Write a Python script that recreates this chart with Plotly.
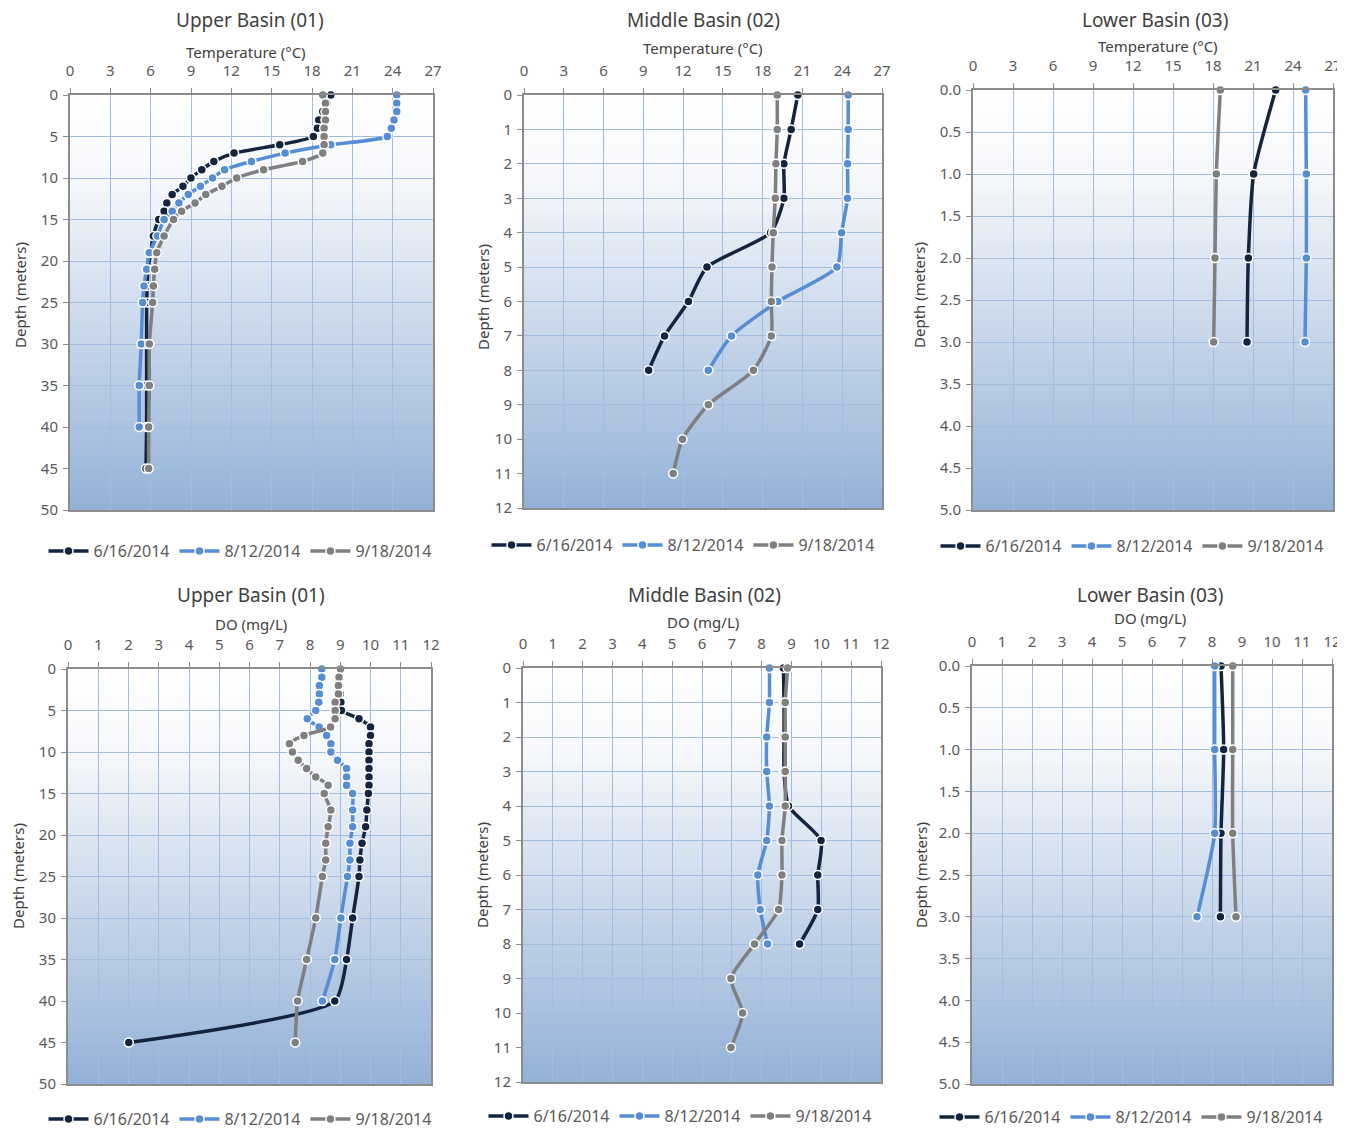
import plotly.graph_objects as go

# page places the figure 8px from top-left; size it to fill the rest of the window
OFF = 8
W, H = 1345 - OFF, 1131 - OFF
FONT = "Noto Sans"
dates = ["6/16/2014", "8/12/2014", "9/18/2014"]
colors = ["#14243f", "#558ed5", "#7f7f7f"]

# ---------------- data ----------------
up_depth = [0, 1, 2, 3, 4, 5, 6, 7, 8, 9, 10, 11, 12, 13, 14, 15, 17, 19, 21, 23, 25, 30, 35, 40, 45]
up_temp_0616 = [19.4, 19.1, 18.8, 18.5, 18.4, 18.1, 15.6, 12.2, 10.7, 9.8, 9.0, 8.4, 7.6, 7.2, 7.0, 6.6,
                6.2, 6.0, 5.8, 5.75, 5.7, 5.7, 5.7, 5.7, 5.65]
up_temp_0812 = [24.3, 24.3, 24.3, 24.1, 23.9, 23.6, 19.4, 16.0, 13.5, 11.5, 10.6, 9.7, 8.8, 8.1, 7.6, 7.0,
                6.5, 5.9, 5.7, 5.5, 5.4, 5.3, 5.15, 5.15]
up_temp_0918 = [18.8, 19.0, 19.0, 19.0, 18.9, 18.9, 18.9, 18.8, 17.3, 14.4, 12.4, 11.3, 10.1, 9.3, 8.3, 7.7,
                7.0, 6.45, 6.3, 6.2, 6.15, 5.9, 5.9, 5.85, 5.85]

mid_depth = [0, 1, 2, 3, 4, 5, 6, 7, 8, 9, 10, 11]
mid_temp_0616 = [20.65, 20.15, 19.6, 19.6, 18.6, 13.8, 12.4, 10.6, 9.4]
mid_temp_0812 = [24.45, 24.45, 24.4, 24.4, 23.95, 23.6, 19.15, 15.65, 13.9]
mid_temp_0918 = [19.1, 19.1, 19.0, 18.95, 18.8, 18.7, 18.65, 18.65, 17.3, 13.9, 11.95, 11.25]

low_depth = [0, 1, 2, 3]
low_temp_0616 = [22.7, 21.05, 20.65, 20.55]
low_temp_0812 = [24.95, 25.0, 25.0, 24.9]
low_temp_0918 = [18.55, 18.25, 18.15, 18.05]

up_do_0616 = [9.01, 9.0, 8.98, 9.0, 9.02, 9.04, 9.62, 10.0, 10.0, 9.95, 9.95, 9.95, 9.95, 9.95, 9.95, 9.93,
              9.88, 9.84, 9.72, 9.65, 9.62, 9.41, 9.21, 8.82, 2.01]
up_do_0812 = [8.39, 8.39, 8.31, 8.31, 8.29, 8.19, 7.91, 8.30, 8.55, 8.69, 8.69, 8.91, 9.21, 9.21, 9.21, 9.41,
              9.41, 9.41, 9.32, 9.32, 9.24, 9.02, 8.82, 8.41]
up_do_0918 = [9.01, 8.96, 8.94, 8.94, 8.83, 8.83, 8.83, 8.68, 7.80, 7.32, 7.42, 7.61, 7.89, 8.19, 8.60, 8.47,
              8.69, 8.60, 8.52, 8.52, 8.41, 8.19, 7.89, 7.59, 7.51]

mid_do_0616 = [8.73, 8.75, 8.75, 8.75, 8.90, 9.99, 9.88, 9.88, 9.27]
mid_do_0812 = [8.26, 8.26, 8.17, 8.17, 8.26, 8.17, 7.87, 7.95, 8.20]
mid_do_0918 = [8.87, 8.79, 8.79, 8.79, 8.79, 8.68, 8.68, 8.57, 7.76, 6.97, 7.36, 6.97]

low_do_0616 = [8.30, 8.39, 8.30, 8.28]
low_do_0812 = [8.09, 8.09, 8.09, 7.50]
low_do_0918 = [8.69, 8.69, 8.69, 8.80]

titles = ["Upper Basin (01)", "Middle Basin (02)", "Lower Basin (03)"] * 2
xtitles = ["Temperature (°C)"] * 3 + ["DO (mg/L)"] * 3

panels = [
    (up_depth, [up_temp_0616, up_temp_0812, up_temp_0918]),
    (mid_depth, [mid_temp_0616, mid_temp_0812, mid_temp_0918]),
    (low_depth, [low_temp_0616, low_temp_0812, low_temp_0918]),
    (up_depth, [up_do_0616, up_do_0812, up_do_0918]),
    (mid_depth, [mid_do_0616, mid_do_0812, mid_do_0918]),
    (low_depth, [low_do_0616, low_do_0812, low_do_0918]),
]

# ---------------- layout geometry (window pixels) ----------------
boxes = [
    (70, 433, 95, 510),
    (524, 882, 95, 508),
    (973, 1333, 90, 510),
    (68, 431, 669, 1084),
    (523, 881, 668, 1082),
    (972, 1332, 666, 1084),
]
xranges = [[0, 27]] * 3 + [[0, 12]] * 3
xdticks = [3] * 3 + [1] * 3
yranges = [[50, 0], [12, 0], [5, 0], [50, 0], [12, 0], [5, 0]]
ydticks = [5, 1, 0.5, 5, 1, 0.5]
yfmts = ["d", "d", ".1f", "d", "d", ".1f"]
title_pos = [(250, 20), (703, 20), (1155, 20), (251, 595), (705, 595), (1150, 595)]
xtitle_pos = [(246, 52), (703, 48), (1158, 46), (251, 624), (703, 622), (1150, 618)]
ytitle_pos = [(20, 295), (483, 297), (919, 295), (18, 876), (482, 875), (921, 875)]
legend_pos = [(240, 551), (683, 545), (1132, 546), (240, 1119), (680, 1116), (1131, 1117)]

def fx(px):
    return (px - OFF) / W

def fy(py):
    return 1 - (py - OFF) / H

fig = go.Figure()
layout = dict(
    width=W, height=H,
    margin=dict(l=0, r=0, t=0, b=0, autoexpand=False),
    paper_bgcolor="white", plot_bgcolor="white",
    font=dict(family=FONT, size=15, color="#595959"),
    showlegend=True,
)
annotations = []
shapes = []

def grad_color(t):
    top = (255, 255, 255)
    mid = (246, 248, 251)
    bot = (147, 177, 215)
    if t < 0.2:
        a = t / 0.2
        c = [top[k] + (mid[k] - top[k]) * a for k in range(3)]
    else:
        a = (t - 0.2) / 0.8
        c = [mid[k] + (bot[k] - mid[k]) * a for k in range(3)]
    return "rgb(%d,%d,%d)" % tuple(int(round(v)) for v in c)

N = 60
for i in range(6):
    n = "" if i == 0 else str(i + 1)
    x0, x1, y0, y1 = boxes[i]
    depth, series = panels[i]
    lg = "legend" if i == 0 else "legend" + str(i + 1)
    for j, vals in enumerate(series):
        fig.add_trace(go.Scatter(
            x=vals, y=depth[:len(vals)],
            mode="lines+markers",
            name=dates[j],
            line=dict(color=colors[j], width=3.5, shape="spline", smoothing=0.6),
            marker=dict(symbol="circle", size=9, color=colors[j], line=dict(color="white", width=1.5)),
            xaxis="x" + n, yaxis="y" + n,
            legend=lg,
            cliponaxis=False,
        ))
    layout["xaxis" + n] = dict(
        domain=[fx(x0), fx(x1)], anchor="y" + n, side="top",
        range=xranges[i], dtick=xdticks[i], tick0=0,
        showgrid=True, gridcolor="#a3bde0", gridwidth=1,
        showline=True, linecolor="#8c8c8c", linewidth=2, mirror=True,
        ticks="outside", ticklen=5, tickcolor="#8c8c8c",
        ticklabelstandoff=6,
        zeroline=False, tickfont=dict(size=15, color="#595959"),
        automargin=False,
    )
    layout["yaxis" + n] = dict(
        domain=[fy(y1), fy(y0)], anchor="x" + n,
        range=yranges[i], dtick=ydticks[i], tick0=0, tickformat=yfmts[i],
        showgrid=True, gridcolor="#a3bde0", gridwidth=1,
        showline=True, linecolor="#8c8c8c", linewidth=2, mirror=True,
        ticks="outside", ticklen=5, tickcolor="#8c8c8c",
        ticklabelstandoff=2,
        zeroline=False, tickfont=dict(size=15, color="#595959"),
        automargin=False,
    )
    lx, ly = legend_pos[i]
    layout[lg] = dict(
        x=fx(lx), y=fy(ly), xanchor="center", yanchor="middle",
        orientation="h", bgcolor="rgba(0,0,0,0)",
        font=dict(size=16, color="#595959"), itemwidth=40,
        tracegroupgap=0,
    )
    # gradient background: stacked overlapping rectangles (no seams)
    for k in range(N):
        t = (k + 0.5) / N
        shapes.append(dict(
            type="rect", xref="x" + n + " domain", yref="y" + n + " domain",
            x0=0, x1=1, y0=0, y1=1 - k / N,
            fillcolor=grad_color(t), line=dict(width=0), layer="below",
        ))
    tx, ty = title_pos[i]
    annotations.append(dict(text=titles[i], x=fx(tx), y=fy(ty), xref="paper", yref="paper",
                            showarrow=False, xanchor="center", yanchor="middle",
                            font=dict(size=19, color="#404040")))
    ax, ay = xtitle_pos[i]
    annotations.append(dict(text=xtitles[i], x=fx(ax), y=fy(ay), xref="paper", yref="paper",
                            showarrow=False, xanchor="center", yanchor="middle",
                            font=dict(size=15, color="#404040")))
    yx, yy = ytitle_pos[i]
    annotations.append(dict(text="Depth (meters)", x=fx(yx), y=fy(yy), xref="paper", yref="paper",
                            showarrow=False, xanchor="center", yanchor="middle", textangle=-90,
                            font=dict(size=15, color="#404040")))

layout["annotations"] = annotations
layout["shapes"] = shapes
fig.update_layout(**layout)
fig.write_html("out.html")
